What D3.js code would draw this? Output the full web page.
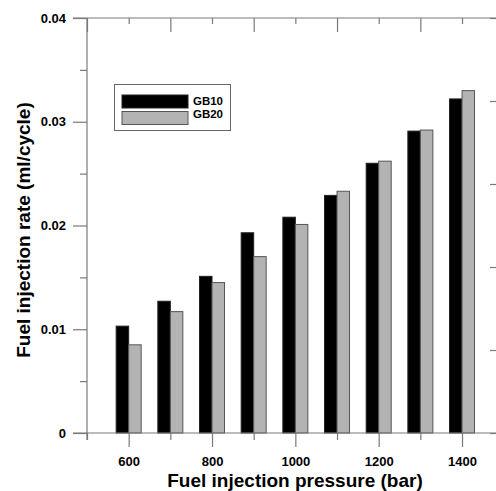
<!DOCTYPE html>
<html><head><meta charset="utf-8">
<script src="https://cdn.jsdelivr.net/npm/d3@7"></script>
<style>
html,body{margin:0;padding:0;background:#fff;}
svg{display:block;}
text{font-family:"Liberation Sans",Arial,sans-serif;font-weight:bold;fill:#000;}
</style></head>
<body>
<svg id="c" width="496" height="491"></svg>
<script>
const pressures = [600, 700, 800, 900, 1000, 1100, 1200, 1300, 1400];
const gb10 = [0.0103, 0.0127, 0.0151, 0.0193, 0.0208, 0.0229, 0.0260, 0.0291, 0.0322];
const gb20 = [0.0085, 0.0117, 0.0145, 0.0170, 0.0201, 0.0233, 0.0262, 0.0292, 0.0330];
const seriesNames = ["GB10", "GB20"];
const xMajorTicks = [600, 800, 1000, 1200, 1400];
const xMinorTicks = [500, 700, 900, 1100, 1300, 1500];
const yMajorTicks = [0, 0.01, 0.02, 0.03, 0.04];
const yMinorTicks = [0.005, 0.015, 0.025, 0.035];
const rightTicks = [0, 1, 2, 3, 4, 5];

(function () {
const svg = d3.select("#c");
const mLeft = 87, mTop = 18, mBottom = 433, rightAxisX = 497;
const axisColor = "#7a7a7a";

const x = d3.scaleLinear().domain([500, 1500]).range([mLeft, mLeft + 416.7]);
const y = d3.scaleLinear().domain([0, 0.04]).range([mBottom, mTop]);
const yR = d3.scaleLinear().domain([0, 5]).range([mBottom, mTop]);
const step = x(600) - x(500);
const bw = step * 0.3;

const colors = ["#000000", "#b3b3b3"];
const strokes = ["#222", "#555"];
[gb10, gb20].forEach((vals, si) => {
  svg.append("g").selectAll("rect").data(vals).join("rect")
    .attr("x", (d, i) => x(pressures[i]) - bw + si * bw)
    .attr("y", d => y(d))
    .attr("width", bw)
    .attr("height", d => y(0) - y(d))
    .attr("fill", colors[si])
    .attr("stroke", strokes[si])
    .attr("stroke-width", 1);
});

function style(g) {
  g.select(".domain").remove();
  g.selectAll(".tick line").attr("stroke", axisColor).attr("stroke-width", 1.2);
  g.selectAll(".tick text").style("font-size", "13px").attr("fill", "#000");
}

svg.append("g").attr("transform", `translate(0,${mBottom})`)
  .call(d3.axisBottom(x).tickValues(xMajorTicks).tickSize(14).tickPadding(10).tickFormat(d3.format("d")))
  .call(style);
svg.append("g").attr("transform", `translate(0,${mBottom})`)
  .call(d3.axisBottom(x).tickValues(xMinorTicks).tickSize(7).tickFormat(""))
  .call(style);
svg.append("g").attr("transform", `translate(0,${mTop})`)
  .call(d3.axisBottom(x).tickValues(xMinorTicks).tickSize(14).tickFormat(""))
  .call(style);
svg.append("g").attr("transform", `translate(0,${mTop})`)
  .call(d3.axisBottom(x).tickValues(xMajorTicks).tickSize(6).tickFormat(""))
  .call(style);
svg.append("g").attr("transform", `translate(${mLeft},0)`)
  .call(d3.axisLeft(y).tickValues(yMajorTicks).tickSize(14).tickPadding(7)
    .tickFormat(d => d === 0 ? "0" : d3.format(".2f")(d)))
  .call(style);
svg.append("g").attr("transform", `translate(${mLeft},0)`)
  .call(d3.axisLeft(y).tickValues(yMinorTicks).tickSize(7).tickFormat(""))
  .call(style);
svg.append("g").attr("transform", `translate(${rightAxisX},0)`)
  .call(d3.axisRight(yR).tickValues(rightTicks).tickSize(-7).tickFormat(""))
  .call(style);

svg.append("line").attr("x1", 73).attr("x2", 496).attr("y1", mBottom).attr("y2", mBottom)
  .attr("stroke", axisColor).attr("stroke-width", 1.2);
svg.append("line").attr("x1", 73).attr("x2", 496).attr("y1", mTop).attr("y2", mTop)
  .attr("stroke", axisColor).attr("stroke-width", 1.2);
svg.append("line").attr("x1", mLeft).attr("x2", mLeft).attr("y1", mTop).attr("y2", mBottom + 7)
  .attr("stroke", axisColor).attr("stroke-width", 1.2);

const lg = svg.append("g");
lg.append("rect").attr("x", 114.5).attr("y", 84.5).attr("width", 116).attr("height", 46)
  .attr("fill", "#fff").attr("stroke", "#666").attr("stroke-width", 1);
seriesNames.forEach((n, i) => {
  lg.append("rect").attr("x", 122).attr("y", 95 + i * 16.5).attr("width", 66).attr("height", 13)
    .attr("fill", colors[i]).attr("stroke", strokes[i]).attr("stroke-width", 1);
  lg.append("text").attr("x", 193).attr("y", 105 + i * 12.8).text(n).style("font-size", "11px")
    .attr("textLength", 30).attr("lengthAdjust", "spacingAndGlyphs");
});

svg.append("text").attr("x", 295).attr("y", 487).attr("text-anchor", "middle")
  .style("font-size", "19px").text("Fuel injection pressure (bar)");
svg.append("text").attr("transform", "translate(30,230) rotate(-90)").attr("text-anchor", "middle")
  .style("font-size", "19px").text("Fuel injection rate (ml/cycle)");
})();
</script>
</body></html>
